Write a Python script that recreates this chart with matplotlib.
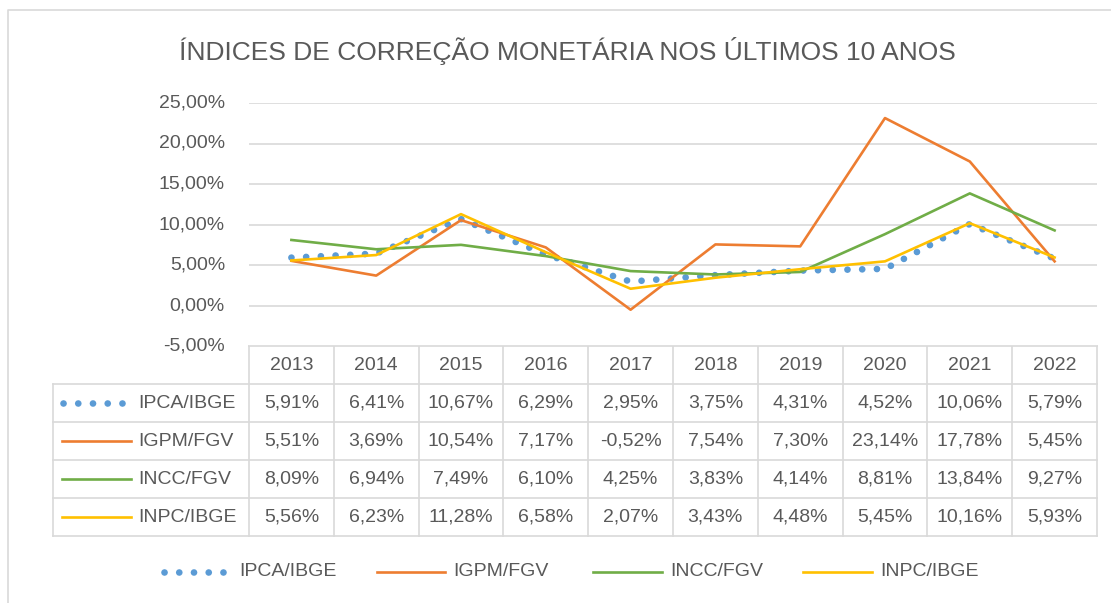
import matplotlib

matplotlib.use("Agg")
import matplotlib.pyplot as plt
from matplotlib.transforms import offset_copy

years = ["2013", "2014", "2015", "2016", "2017", "2018", "2019", "2020", "2021", "2022"]
ipca = [5.91, 6.41, 10.67, 6.29, 2.95, 3.75, 4.31, 4.52, 10.06, 5.79]
igpm = [5.51, 3.69, 10.54, 7.17, -0.52, 7.54, 7.30, 23.14, 17.78, 5.45]
incc = [8.09, 6.94, 7.49, 6.10, 4.25, 3.83, 4.14, 8.81, 13.84, 9.27]
inpc = [5.56, 6.23, 11.28, 6.58, 2.07, 3.43, 4.48, 5.45, 10.16, 5.93]
names = ["IPCA/IBGE", "IGPM/FGV", "INCC/FGV", "INPC/IBGE"]
yticks = [-5, 0, 5, 10, 15, 20, 25]

W, H = 1111, 603
TXT = "#595959"
GRID = "#D9D9D9"
FONT = "Liberation Sans"
FS = 14

styles = [
    dict(color="#5B9BD5", lw=4.8, ls=(0, (0.01, 2.2)), dash_capstyle="round"),
    dict(color="#ED7D31", lw=1.9, ls="-"),
    dict(color="#70AD47", lw=1.9, ls="-"),
    dict(color="#FFC000", lw=1.9, ls="-"),
]
series = [ipca, igpm, incc, inpc]


def pct(v):
    return f"{v:.2f}%".replace(".", ",")


def box(x0, y0, x1, y1):
    # pixel box (top-left origin) -> figure fraction [l, b, w, h]
    return [x0 / W, 1 - y1 / H, (x1 - x0) / W, (y1 - y0) / H]


fig = plt.figure(figsize=(W / 100, H / 100), dpi=100)

# overlay in pixel coords for frame, table and legend
ov = fig.add_axes([0, 0, 1, 1], facecolor="none")
ov.set_xlim(0, W)
ov.set_ylim(H, 0)
ov.axis("off")
ov.plot([8, 8, W + 5], [H + 5, 10, 10], color=GRID, lw=1.2)

fig.text(567 / W, 1 - 51 / H, "ÍNDICES DE CORREÇÃO MONETÁRIA NOS ÚLTIMOS 10 ANOS",
         ha="center", va="center", fontsize=19, color=TXT, family=FONT)

# --- line chart ---
PL, PR, PT, PB = 249, 1097, 103, 346
ax = fig.add_axes(box(PL, PT, PR, PB))
x = [i + 0.5 for i in range(len(years))]
for vals, st in zip(series, styles):
    ax.plot(x, vals, color=st["color"], lw=st["lw"], ls=st["ls"],
            dash_capstyle=st.get("dash_capstyle", "butt"), zorder=3)
ax.set_xlim(0, len(years))
ax.set_ylim(-5, 25)
ax.set_yticks(yticks)
ax.set_yticklabels([])
ax.tick_params(axis="y", length=0)
ax.set_xticks([])
ax.grid(axis="y", color=GRID, lw=1.2)
for s in ax.spines.values():
    s.set_visible(False)
ax.set_axisbelow(True)
lab_tr = offset_copy(ax.get_yaxis_transform(), fig=fig, x=-24, y=0, units="dots")
for v in yticks:
    ax.text(0, v, pct(v), transform=lab_tr, ha="right", va="center",
            fontsize=FS, color=TXT, family=FONT)

# --- data table ---
TL, RH = 53, 38
cw = (PR - PL) / len(years)
rows_y = [PB + RH * k for k in range(6)]
cols_x = [PL + cw * k for k in range(len(years) + 1)]
ov.plot([PL, PR], [rows_y[0]] * 2, color=GRID, lw=1.2)
for yy in rows_y[1:]:
    ov.plot([TL, PR], [yy, yy], color=GRID, lw=1.2)
for xx in cols_x:
    ov.plot([xx, xx], [rows_y[0], rows_y[-1]], color=GRID, lw=1.2)
ov.plot([TL, TL], [rows_y[1], rows_y[-1]], color=GRID, lw=1.2)

for j, yr in enumerate(years):
    ov.text(PL + cw * (j + 0.5), (rows_y[0] + rows_y[1]) / 2, yr, ha="center",
            va="center", fontsize=FS, color=TXT, family=FONT)
for i, (nm, vals, st) in enumerate(zip(names, series, styles)):
    yc = (rows_y[i + 1] + rows_y[i + 2]) / 2
    x0 = 63 if i == 0 else 62
    x1 = 124 if i == 0 else 131
    ov.plot([x0, x1], [yc, yc], color=st["color"], lw=st["lw"], ls=st["ls"],
            dash_capstyle=st.get("dash_capstyle", "butt"))
    ov.text(138, yc, nm, ha="left", va="center", fontsize=FS, color=TXT, family=FONT)
    for j, v in enumerate(vals):
        ov.text(PL + cw * (j + 0.5), yc, pct(v), ha="center", va="center",
                fontsize=FS, color=TXT, family=FONT)

# --- bottom legend ---
LY = 572
key_x = [(164, 226), (377, 445), (593, 662), (803, 872)]
text_x = [239, 453, 670, 880]
for nm, st, (k0, k1), tx in zip(names, styles, key_x, text_x):
    ov.plot([k0, k1], [LY, LY], color=st["color"], lw=st["lw"], ls=st["ls"],
            dash_capstyle=st.get("dash_capstyle", "butt"))
    ov.text(tx, LY, nm, ha="left", va="center", fontsize=FS, color=TXT, family=FONT)

fig.savefig("out.png", dpi=100)
